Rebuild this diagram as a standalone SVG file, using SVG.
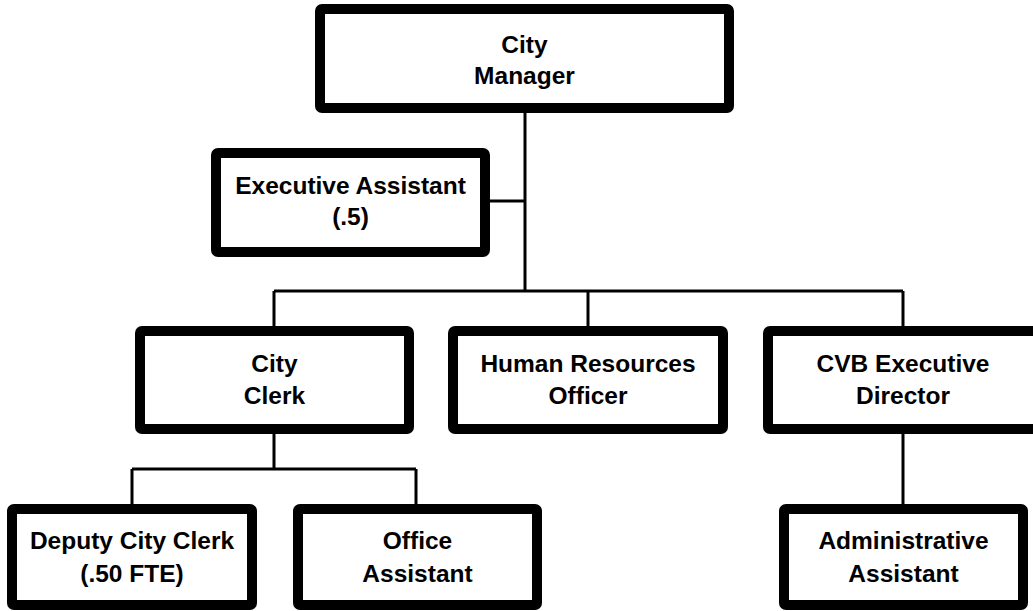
<svg xmlns="http://www.w3.org/2000/svg" width="1033" height="611" viewBox="0 0 1033 611">
<style>
.box{fill:#fff;stroke:#000;stroke-width:10;stroke-linejoin:round}
.lbl{font-family:"Liberation Sans",Arial,sans-serif;font-weight:bold;font-size:24.5px;fill:#000;text-anchor:middle}
.con{fill:none;stroke:#000;stroke-width:3}
</style>
<rect width="1033" height="611" fill="#fff"/>
<g id="connectors">
<path class="con" d="M525 113V291M490 201H525M274 291H903M274 291V326M588 291V326M903 291V326"/>
<path class="con" d="M274 434V469M132 469H416M132 469V504M416 469V504M903 434V504"/>
</g>
<g id="city-manager"><rect class="box" x="320" y="9" width="409" height="99" rx="2"/>
<text class="lbl" x="524.5" y="53">City</text><text class="lbl" x="524.5" y="84">Manager</text></g>
<g id="executive-assistant"><rect class="box" x="216" y="153" width="269" height="99" rx="2"/>
<text class="lbl" x="350.5" y="194">Executive Assistant</text><text class="lbl" x="350.5" y="225">(.5)</text></g>
<g id="city-clerk"><rect class="box" x="140" y="331" width="269" height="98" rx="2"/>
<text class="lbl" x="274.5" y="372">City</text><text class="lbl" x="274.5" y="404">Clerk</text></g>
<g id="hr-officer"><rect class="box" x="453" y="331" width="270" height="98" rx="2"/>
<text class="lbl" x="588" y="372">Human Resources</text><text class="lbl" x="588" y="404">Officer</text></g>
<g id="cvb-director"><rect class="box" x="768" y="331" width="270" height="98" rx="2"/>
<text class="lbl" x="903" y="372">CVB Executive</text><text class="lbl" x="903" y="404">Director</text></g>
<g id="deputy-city-clerk"><rect class="box" x="12" y="509" width="240" height="96" rx="2"/>
<text class="lbl" x="132" y="549">Deputy City Clerk</text><text class="lbl" x="132" y="582">(.50 FTE)</text></g>
<g id="office-assistant"><rect class="box" x="298" y="509" width="239" height="96" rx="2"/>
<text class="lbl" x="417.5" y="549">Office</text><text class="lbl" x="417.5" y="582">Assistant</text></g>
<g id="administrative-assistant"><rect class="box" x="784" y="509" width="239" height="96" rx="2"/>
<text class="lbl" x="903.5" y="549">Administrative</text><text class="lbl" x="903.5" y="582">Assistant</text></g>
</svg>
